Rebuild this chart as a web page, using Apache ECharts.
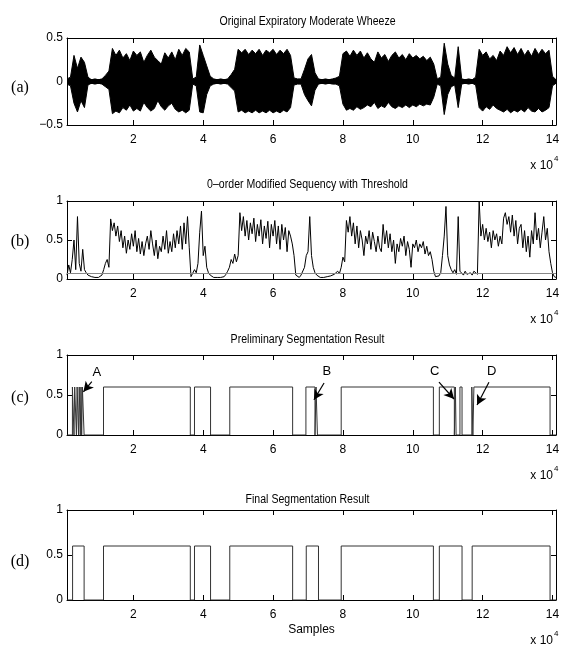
<!DOCTYPE html>
<html>
<head>
<meta charset="utf-8">
<script src="https://cdn.jsdelivr.net/npm/echarts@6/dist/echarts.min.js"></script>
<style>
html, body { margin: 0; padding: 0; background: #fff; }
#main { width: 563px; height: 648px; }
</style>
</head>
<body>
<div id="main"></div>
<script>
// (a) 每 1000 个采样点读一次包络
var waveStart = 1000, waveStep = 1000;
var waveUpper = [
    0.03,0.05,0.30,0.15,0.28,0.22,0.05,0.02,0.03,0.02,
    0.03,0.07,0.12,0.38,0.30,0.36,0.27,0.32,0.24,0.35,
    0.30,0.34,0.22,0.30,0.36,0.28,0.24,0.20,0.33,0.27,
    0.34,0.25,0.37,0.30,0.38,0.34,0.03,0.05,0.42,0.30,
    0.18,0.06,0.03,0.02,0.03,0.02,0.03,0.08,0.14,0.37,
    0.33,0.37,0.31,0.36,0.32,0.37,0.30,0.36,0.33,0.37,
    0.31,0.36,0.32,0.37,0.30,0.04,0.03,0.03,0.14,0.26,
    0.31,0.10,0.03,0.02,0.03,0.02,0.03,0.04,0.06,0.32,
    0.35,0.29,0.36,0.30,0.35,0.27,0.33,0.26,0.22,0.34,
    0.27,0.31,0.23,0.30,0.34,0.27,0.31,0.25,0.32,0.27,
    0.30,0.26,0.29,0.24,0.28,0.20,0.03,0.05,0.44,0.20,
    0.07,0.04,0.40,0.03,0.02,0.03,0.02,0.05,0.37,0.30,
    0.34,0.26,0.30,0.24,0.35,0.30,0.40,0.33,0.39,0.31,
    0.38,0.30,0.36,0.29,0.38,0.31,0.37,0.32,0.36,0.06,
    0.02
];
var waveLower = [
    -0.03,-0.05,-0.25,-0.35,-0.22,-0.30,-0.04,-0.02,-0.03,-0.02,
    -0.03,-0.06,-0.09,-0.37,-0.34,-0.36,-0.30,-0.33,-0.27,-0.34,
    -0.31,-0.34,-0.24,-0.30,-0.34,-0.31,-0.22,-0.29,-0.33,-0.28,
    -0.25,-0.32,-0.35,-0.33,-0.36,-0.33,-0.03,-0.05,-0.35,-0.36,
    -0.15,-0.05,-0.03,-0.02,-0.03,-0.02,-0.03,-0.07,-0.11,-0.35,
    -0.33,-0.36,-0.34,-0.36,-0.33,-0.36,-0.34,-0.36,-0.33,-0.36,
    -0.34,-0.36,-0.33,-0.35,-0.30,-0.04,-0.03,-0.03,-0.15,-0.22,
    -0.28,-0.10,-0.03,-0.02,-0.03,-0.02,-0.03,-0.03,-0.05,-0.26,
    -0.33,-0.31,-0.33,-0.29,-0.32,-0.30,-0.27,-0.29,-0.24,-0.31,
    -0.28,-0.30,-0.24,-0.29,-0.31,-0.28,-0.30,-0.27,-0.30,-0.27,
    -0.29,-0.26,-0.28,-0.26,-0.27,-0.18,-0.03,-0.05,-0.38,-0.15,
    -0.06,-0.04,-0.30,-0.03,-0.02,-0.03,-0.02,-0.04,-0.30,-0.34,
    -0.29,-0.32,-0.27,-0.31,-0.33,-0.35,-0.32,-0.36,-0.33,-0.35,
    -0.32,-0.35,-0.30,-0.34,-0.35,-0.31,-0.35,-0.33,-0.30,-0.05,
    -0.02
];

// (b) 0 阶修正序列, 每 500 个采样点读一次
var seqStart = 1000, seqStep = 500;
var modSeq = [
    0.05,0.18,0.08,0.25,0.50,0.12,0.80,0.20,0.10,0.38,0.12,0.08,0.05,0.04,0.03,0.02,0.02,0.03,0.02,0.03,
    0.05,0.12,0.20,0.25,0.15,0.77,0.62,0.72,0.55,0.68,0.48,0.62,0.40,0.55,0.33,0.50,0.38,0.58,0.42,0.62,
    0.35,0.52,0.32,0.48,0.30,0.45,0.55,0.38,0.62,0.45,0.30,0.50,0.26,0.42,0.35,0.55,0.38,0.62,0.33,0.48,
    0.35,0.58,0.40,0.62,0.45,0.68,0.38,0.72,0.45,0.80,0.40,0.03,0.05,0.12,0.08,0.20,0.60,0.87,0.30,0.42,
    0.15,0.08,0.05,0.03,0.02,0.03,0.02,0.03,0.02,0.04,0.03,0.06,0.10,0.15,0.25,0.20,0.32,0.22,0.30,0.85,
    0.62,0.80,0.55,0.75,0.50,0.72,0.58,0.78,0.48,0.70,0.55,0.76,0.45,0.68,0.52,0.74,0.40,0.70,0.55,0.75,
    0.45,0.68,0.38,0.70,0.50,0.66,0.35,0.62,0.55,0.45,0.30,0.05,0.03,0.02,0.05,0.03,0.15,0.30,0.35,0.80,
    0.30,0.15,0.08,0.05,0.03,0.02,0.03,0.02,0.02,0.03,0.02,0.04,0.03,0.06,0.05,0.10,0.07,0.15,0.28,0.22,
    0.75,0.60,0.80,0.55,0.72,0.45,0.68,0.40,0.62,0.50,0.30,0.55,0.45,0.62,0.38,0.60,0.48,0.35,0.55,0.40,
    0.35,0.70,0.45,0.62,0.40,0.58,0.35,0.50,0.20,0.45,0.35,0.52,0.42,0.55,0.30,0.48,0.38,0.15,0.45,0.40,
    0.50,0.35,0.45,0.40,0.48,0.32,0.42,0.30,0.35,0.25,0.10,0.03,0.03,0.04,0.08,0.30,0.55,0.93,0.30,0.18,
    0.12,0.08,0.12,0.06,0.80,0.10,0.08,0.05,0.10,0.06,0.04,0.08,0.05,0.10,0.12,0.06,1.00,0.55,0.70,0.50,
    0.65,0.48,0.60,0.40,0.62,0.50,0.58,0.42,0.55,0.45,0.78,0.85,0.70,0.80,0.60,0.82,0.55,0.75,0.45,0.65,
    0.70,0.40,0.62,0.35,0.55,0.28,0.62,0.45,0.85,0.50,0.65,0.40,0.60,0.80,0.50,0.65,0.35,0.20,0.08,0.03,
    0.02
];
var threshold = 0.075;

// (c)(d) 分段结果 [起点, 终点], 高度 0.6
var segLevel = 0.6;
var prelimSegs = [
    [2550,3000],[3200,3700],[3900,4300],[4500,4800],[5000,5200],[5400,5900],
    [11450,36300],[37500,42100],[47600,65600],
    [69400,72000],[72300,72700],
    [79500,105900],
    [107600,111900],[112200,112400],[113500,114100],
    [116900,117200],[117500,139300]
];
var finalSegs = [
    [2600,5900],[11450,36300],[37500,42100],[47600,65600],
    [69500,73000],[79500,105900],[107600,114100],[117000,139300]
];

// 箭头标注 A B C D (数据坐标)
var arrowNames = ['A', 'B', 'C', 'D'];
var arrowFrom = [[8100,0.666],[74600,0.65],[107500,0.66],[121800,0.66]];
var arrowTo = [[5700,0.54],[71700,0.44],[111800,0.45],[118400,0.375]];
var arrowLabel = [[9530,0.78],[75400,0.79],[106300,0.79],[122600,0.79]];

var xTicks = [20000,40000,60000,80000,100000,120000,140000];
var titles = ['Original Expiratory Moderate Wheeze', '0\u2013order Modified Sequency with Threshold',
              'Preliminary Segmentation Result', 'Final Segmentation Result'];
var panelNames = ['(a)', '(b)', '(c)', '(d)'];
var yRange = [[-0.5, 0.5], [0, 1], [0, 1], [0, 1]];

// 版面
var gridLeft = 67, gridWidth = 489;
var gridTop = [38, 201, 355, 510];
var gridHeight = [87, 78, 80, 90];
var titleY = [22, 185, 340, 500];
var panelY = [88, 242, 398, 562];

var sansFont = "'Liberation Sans', Arial, sans-serif";
var serifFont = "'Liberation Serif', 'Times New Roman', serif";

function toPairs(vals, start, step) {
    var out = [];
    for (var i = 0; i < vals.length; i++) {
        out.push([start + i * step, vals[i]]);
    }
    return out;
}
function segPath(segs) {
    var out = [[1000, 0]];
    for (var i = 0; i < segs.length; i++) {
        out.push([segs[i][0], 0], [segs[i][0], segLevel], [segs[i][1], segLevel], [segs[i][1], 0]);
    }
    out.push([141000, 0]);
    return out;
}

var myChart = echarts.init(document.getElementById('main'), null, {renderer: 'canvas'});

var grids = [], xAxes = [], yAxes = [], graphics = [];
for (var i = 0; i < 4; i++) {
    grids.push({left: gridLeft, top: gridTop[i], width: gridWidth, height: gridHeight[i], containLabel: false});
    var lineSt = {show: true, onZero: false, lineStyle: {color: '#000', width: 1}};
    var tickSt = {show: true, inside: true, length: 5, customValues: xTicks, lineStyle: {color: '#000', width: 1}};
    xAxes.push({
        gridIndex: i, type: 'value', min: 1000, max: 141000, position: 'bottom',
        axisLine: lineSt, axisTick: tickSt, splitLine: {show: false},
        name: i === 3 ? 'Samples' : '', nameLocation: 'middle', nameGap: 24,
        nameTextStyle: {color: '#000', fontSize: 12, fontFamily: sansFont},
        axisLabel: {
            customValues: xTicks, color: '#000', fontSize: 12, fontFamily: sansFont, margin: 9,
            formatter: function (v) { return String(v / 10000); }
        }
    });
    xAxes.push({
        gridIndex: i, type: 'value', min: 1000, max: 141000, position: 'top',
        axisLine: lineSt, axisTick: tickSt, axisLabel: {show: false}, splitLine: {show: false}
    });
    var yTickSt = {show: true, inside: true, length: 5, lineStyle: {color: '#000', width: 1}};
    yAxes.push({
        gridIndex: i, type: 'value', min: yRange[i][0], max: yRange[i][1], interval: 0.5, position: 'left',
        axisLine: lineSt, axisTick: yTickSt, splitLine: {show: false},
        axisLabel: {
            color: '#000', fontSize: 12, fontFamily: sansFont, margin: 4,
            formatter: function (v) { return String(v).replace('-', '\u2212'); }
        }
    });
    yAxes.push({
        gridIndex: i, type: 'value', min: yRange[i][0], max: yRange[i][1], interval: 0.5, position: 'right',
        axisLine: lineSt, axisTick: yTickSt, axisLabel: {show: false}, splitLine: {show: false}
    });
    // 标题用略窄的字形
    graphics.push({
        type: 'text', x: gridLeft + gridWidth / 2 - 4, y: titleY[i], scaleX: 0.88,
        style: {text: titles[i], fill: '#000', font: '12px ' + sansFont, align: 'center', verticalAlign: 'middle'}
    });
    var bottom = gridTop[i] + gridHeight[i];
    graphics.push({
        type: 'text', x: 20, y: panelY[i],
        style: {text: panelNames[i], fill: '#000', font: '16px ' + serifFont, align: 'center', verticalAlign: 'middle'}
    });
    graphics.push({
        type: 'text', x: 553, y: bottom + 41,
        style: {text: 'x 10', fill: '#000', font: '12px ' + sansFont, align: 'right', verticalAlign: 'middle'}
    });
    graphics.push({
        type: 'text', x: 554, y: bottom + 34,
        style: {text: '4', fill: '#000', font: '8px ' + sansFont, align: 'left', verticalAlign: 'middle'}
    });
}

var arrowLines = [], arrowPoints = [];
for (var k = 0; k < arrowNames.length; k++) {
    arrowLines.push([{coord: arrowFrom[k]}, {coord: arrowTo[k]}]);
    arrowPoints.push({name: arrowNames[k], coord: arrowLabel[k]});
}

option = {
    animation: false,
    backgroundColor: '#fff',
    grid: grids,
    xAxis: xAxes,
    yAxis: yAxes,
    graphic: graphics,
    series: [
        {
            name: 'upper', type: 'line', xAxisIndex: 0, yAxisIndex: 0, data: toPairs(waveUpper, waveStart, waveStep),
            showSymbol: false, symbol: 'none',
            lineStyle: {color: '#000', width: 1}, areaStyle: {color: '#000', opacity: 1, origin: -0.03}
        },
        {
            name: 'lower', type: 'line', xAxisIndex: 0, yAxisIndex: 0, data: toPairs(waveLower, waveStart, waveStep),
            showSymbol: false, symbol: 'none',
            lineStyle: {color: '#000', width: 1}, areaStyle: {color: '#000', opacity: 1, origin: 0.03}
        },
        {
            name: 'modified', type: 'line', xAxisIndex: 2, yAxisIndex: 2, data: toPairs(modSeq, seqStart, seqStep),
            showSymbol: false, symbol: 'none', lineStyle: {color: '#000', width: 1},
            markLine: {
                silent: true, symbol: 'none', label: {show: false},
                lineStyle: {color: '#888', type: 'solid', width: 1},
                data: [{yAxis: threshold}]
            }
        },
        {
            name: 'prelim', type: 'line', xAxisIndex: 4, yAxisIndex: 4, data: segPath(prelimSegs),
            showSymbol: false, symbol: 'none', lineStyle: {color: '#333', width: 1},
            markLine: {
                silent: true, symbol: ['none', 'arrow'], symbolSize: [8, 10], label: {show: false},
                lineStyle: {color: '#000', type: 'solid', width: 1.2},
                data: arrowLines
            },
            markPoint: {
                silent: true, symbol: 'circle', symbolSize: 1,
                itemStyle: {color: 'transparent'},
                label: {show: true, position: 'inside', formatter: '{b}', color: '#000', fontSize: 13, fontFamily: sansFont},
                data: arrowPoints
            }
        },
        {
            name: 'final', type: 'line', xAxisIndex: 6, yAxisIndex: 6, data: segPath(finalSegs),
            showSymbol: false, symbol: 'none', lineStyle: {color: '#333', width: 1}
        }
    ]
};
myChart.setOption(option);
</script>
</body>
</html>
